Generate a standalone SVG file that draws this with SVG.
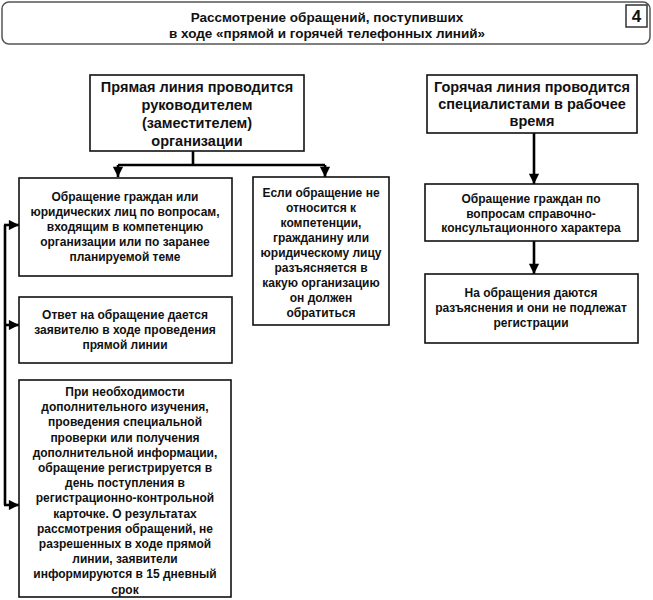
<svg xmlns="http://www.w3.org/2000/svg" width="653" height="600" viewBox="0 0 653 600">
<style>
text{font-family:"Liberation Sans",Arial,sans-serif;font-weight:bold;fill:#111;text-anchor:middle}
.b{font-size:12px}
.h{font-size:14.5px}
.t{font-size:13.5px}
rect.n{fill:#fff;stroke:#111;stroke-width:1.6}
.c{stroke:#000;stroke-width:2.6;fill:none}
</style>
<defs>
<marker id="ah" viewBox="0 0 10 10" refX="10" refY="5" markerWidth="4.8" markerHeight="3.9" orient="auto" markerUnits="strokeWidth">
<path d="M0,0 L10,5 L0,10 Z" fill="#000"/>
</marker>
</defs>
<rect width="653" height="600" fill="#fff"/>
<g id="title">
<rect x="2" y="2" width="648" height="42" rx="7" fill="#fff" stroke="#555" stroke-width="1.5"/>
<text class="t" x="327" y="22">Рассмотрение обращений, поступивших</text>
<text class="t" x="327" y="38">в ходе «прямой и горячей телефонных линий»</text>
<rect x="626" y="5" width="21" height="22" fill="#fff" stroke="#333" stroke-width="1.5"/>
<text x="636.5" y="22" style="font-size:17px">4</text>
</g>
<g id="connectors">
<path class="c" d="M193,151 V165 M118,165 H325"/>
<path class="c" d="M118,165 V177" marker-end="url(#ah)"/>
<path class="c" d="M325,165 V177" marker-end="url(#ah)"/>
<path class="c" d="M534,133 V184" marker-end="url(#ah)"/>
<path class="c" d="M534,241 V274" marker-end="url(#ah)"/>
<path class="c" d="M5,225 V505"/>
<path class="c" d="M4,225 H19" marker-end="url(#ah)"/>
<path class="c" d="M4,325 H19" marker-end="url(#ah)"/>
<path class="c" d="M4,505 H19" marker-end="url(#ah)"/>
</g>
<g id="direct">
<rect class="n" x="90" y="75" width="214" height="76"/>
<text class="h" x="197" y="92">Прямая линия проводится</text>
<text class="h" x="197" y="110">руководителем</text>
<text class="h" x="197" y="128">(заместителем)</text>
<text class="h" x="197" y="146">организации</text>
</g>
<g id="hot">
<rect class="n" x="427" y="75" width="210" height="58"/>
<text class="h" x="532" y="92">Горячая линия проводится</text>
<text class="h" x="532" y="109">специалистами в рабочее</text>
<text class="h" x="532" y="126">время</text>
</g>
<g id="citizens">
<rect class="n" x="19" y="178" width="213" height="98"/>
<text class="b" x="125" y="201">Обращение граждан или</text>
<text class="b" x="125" y="216">юридических лиц по вопросам,</text>
<text class="b" x="125" y="231">входящим в компетенцию</text>
<text class="b" x="125" y="246">организации или по заранее</text>
<text class="b" x="125" y="261">планируемой теме</text>
</g>
<g id="answer">
<rect class="n" x="19" y="297" width="213" height="66"/>
<text class="b" x="125" y="319">Ответ на обращение дается</text>
<text class="b" x="125" y="334">заявителю в ходе проведения</text>
<text class="b" x="125" y="349">прямой линии</text>
</g>
<g id="register">
<rect class="n" x="19" y="380" width="212" height="217"/>
<text class="b" x="125" y="396">При необходимости</text>
<text class="b" x="125" y="411.2">дополнительного изучения,</text>
<text class="b" x="125" y="426.4">проведения специальной</text>
<text class="b" x="125" y="441.6">проверки или получения</text>
<text class="b" x="125" y="456.8">дополнительной информации,</text>
<text class="b" x="125" y="472">обращение регистрируется в</text>
<text class="b" x="125" y="487.2">день поступления в</text>
<text class="b" x="125" y="502.4">регистрационно-контрольной</text>
<text class="b" x="125" y="517.6">карточке. О результатах</text>
<text class="b" x="125" y="532.8">рассмотрения обращений, не</text>
<text class="b" x="125" y="548">разрешенных в ходе прямой</text>
<text class="b" x="125" y="563.2">линии, заявители</text>
<text class="b" x="125" y="578.4">информируются в 15 дневный</text>
<text class="b" x="125" y="593.6">срок</text>
</g>
<g id="notcompetent">
<rect class="n" x="253" y="177" width="136" height="148"/>
<text class="b" x="321" y="197">Если обращение не</text>
<text class="b" x="321" y="212">относится к</text>
<text class="b" x="321" y="227">компетенции,</text>
<text class="b" x="321" y="242">гражданину или</text>
<text class="b" x="321" y="257">юридическому лицу</text>
<text class="b" x="321" y="272">разъясняется в</text>
<text class="b" x="321" y="287">какую организацию</text>
<text class="b" x="321" y="302">он должен</text>
<text class="b" x="321" y="317">обратиться</text>
</g>
<g id="reference">
<rect class="n" x="425" y="184" width="213" height="57"/>
<text class="b" x="531" y="203">Обращение граждан по</text>
<text class="b" x="531" y="218">вопросам справочно-</text>
<text class="b" x="531" y="232">консультационного характера</text>
</g>
<g id="noreg">
<rect class="n" x="425" y="274" width="213" height="69"/>
<text class="b" x="531" y="297">На обращения даются</text>
<text class="b" x="531" y="312">разъяснения и они не подлежат</text>
<text class="b" x="531" y="327">регистрации</text>
</g>
</svg>
